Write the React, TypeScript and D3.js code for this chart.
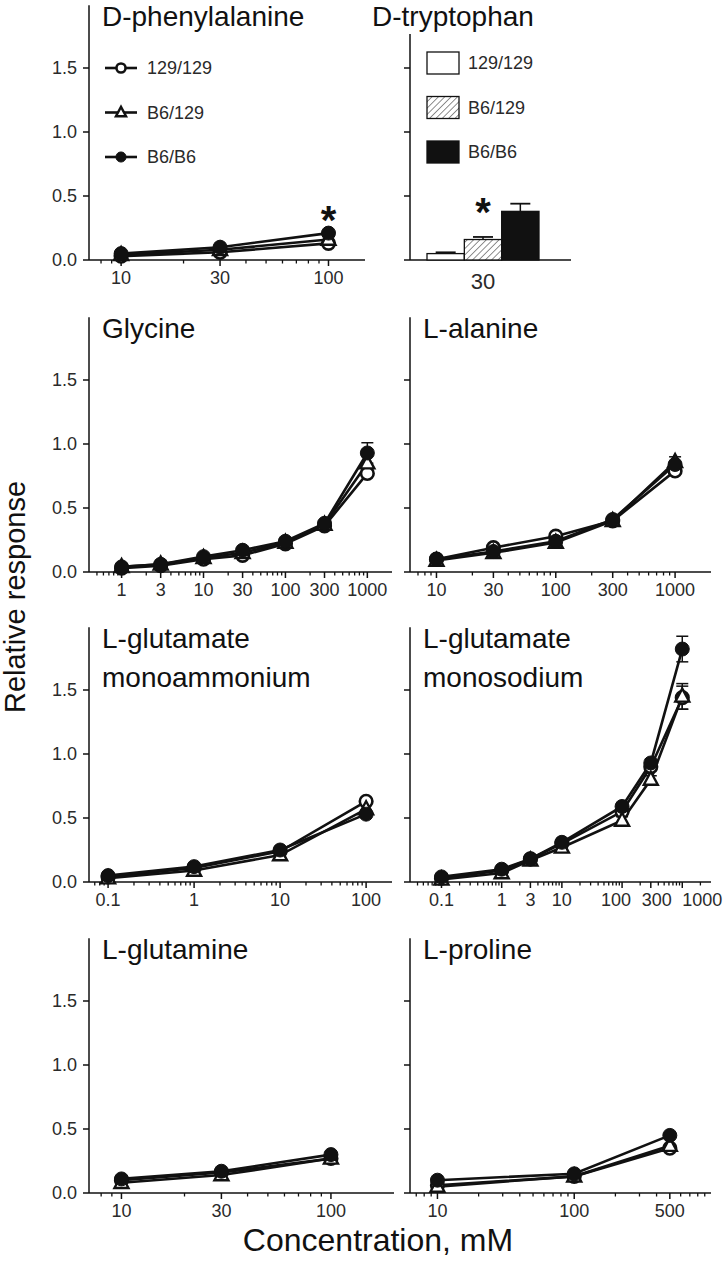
import React from "react";
import * as d3 from "d3";

const FONT = "'Liberation Sans', Arial, Helvetica, sans-serif";
const INK = "#111";

// ---------- data ----------
const strains = ["129/129", "B6/129", "B6/B6"];
const yTickValues = [0, 0.5, 1.0, 1.5];
const yTickLabels = ["0.0", "0.5", "1.0", "1.5"];

// D-phenylalanine
const dpheConc = [10, 30, 100];
const dphe129 = [0.03, 0.06, 0.13];
const dpheB6129 = [0.04, 0.08, 0.16];
const dpheB6 = [0.05, 0.1, 0.21];
const dpheTicks = [10, 30, 100];

// D-tryptophan (bars)
const dtrpConcLabel = "30";
const dtrpMeans = [0.05, 0.16, 0.38];
const dtrpSem = [0.01, 0.02, 0.06];

// Glycine
const glyConc = [1, 3, 10, 30, 100, 300, 1000];
const gly129 = [0.03, 0.05, 0.1, 0.13, 0.22, 0.36, 0.77];
const glyB6129 = [0.04, 0.06, 0.11, 0.15, 0.23, 0.37, 0.85];
const glyB6 = [0.04, 0.06, 0.12, 0.17, 0.24, 0.38, 0.93];
const glySemB6 = [0.01, 0.01, 0.01, 0.02, 0.02, 0.02, 0.08];
const glyTicks = [1, 3, 10, 30, 100, 300, 1000];

// L-alanine
const alaConc = [10, 30, 100, 300, 1000];
const ala129 = [0.1, 0.19, 0.28, 0.4, 0.79];
const alaB6129 = [0.09, 0.15, 0.23, 0.4, 0.86];
const alaB6 = [0.1, 0.16, 0.24, 0.41, 0.84];
const alaSemB6129 = [0.01, 0.01, 0.02, 0.02, 0.04];
const alaTicks = [10, 30, 100, 300, 1000];

// L-glutamate monoammonium
const mpgConc = [0.1, 1, 10, 100];
const mpg129 = [0.04, 0.11, 0.24, 0.63];
const mpgB6129 = [0.03, 0.09, 0.21, 0.57];
const mpgB6 = [0.05, 0.12, 0.25, 0.53];
const mpgTicks = [0.1, 1, 10, 100];

// L-glutamate monosodium
const msgConc = [0.1, 1, 3, 10, 100, 300, 1000];
const msg129 = [0.03, 0.09, 0.18, 0.3, 0.55, 0.9, 1.44];
const msgB6129 = [0.02, 0.07, 0.17, 0.27, 0.48, 0.8, 1.45];
const msgB6 = [0.04, 0.1, 0.18, 0.31, 0.59, 0.93, 1.82];
const msgSem129 = [0.01, 0.01, 0.01, 0.02, 0.03, 0.03, 0.09];
const msgSemB6129 = [0.01, 0.01, 0.01, 0.02, 0.03, 0.03, 0.1];
const msgSemB6 = [0.01, 0.01, 0.01, 0.02, 0.03, 0.03, 0.1];
const msgTicks = [0.1, 1, 3, 10, 100, 300, 1000];

// L-glutamine
const glnConc = [10, 30, 100];
const gln129 = [0.1, 0.16, 0.27];
const glnB6129 = [0.08, 0.14, 0.27];
const glnB6 = [0.11, 0.17, 0.3];
const glnTicks = [10, 30, 100];

// L-proline
const proConc = [10, 100, 500];
const pro129 = [0.06, 0.13, 0.35];
const proB6129 = [0.05, 0.13, 0.37];
const proB6 = [0.1, 0.15, 0.45];
const proTicks = [10, 100, 500];

const fmt = (v: number) => String(v);

// ---------- layout ----------
const L = 89;
const R = 410;
const rows = [260, 572, 882, 1193];
const PH = 256;
const LW = 2.6;

type PanelDef = {
  title: string[];
  conc: number[];
  series: number[][];
  sem?: (number[] | null)[];
  ticks: number[];
  labelShift?: number[];
  xDomain: [number, number];
  left: number;
  right: number;
  zeroY: number;
  yLabels: boolean;
  legend?: boolean;
  starAt?: number;
};

const panels: PanelDef[] = [
  { title: ["D-phenylalanine"], conc: dpheConc, series: [dphe129, dpheB6129, dpheB6], ticks: dpheTicks, xDomain: [7, 150], left: L, right: 365, zeroY: rows[0], yLabels: true, legend: true, starAt: 2 },
  { title: ["Glycine"], conc: glyConc, series: [gly129, glyB6129, glyB6], sem: [null, null, glySemB6], ticks: glyTicks, xDomain: [0.4, 2000], left: L, right: 392, zeroY: rows[1], yLabels: true },
  { title: ["L-alanine"], conc: alaConc, series: [ala129, alaB6129, alaB6], sem: [null, alaSemB6129, null], ticks: alaTicks, xDomain: [6, 2000], left: R, right: 711, zeroY: rows[1], yLabels: false },
  { title: ["L-glutamate", "monoammonium"], conc: mpgConc, series: [mpg129, mpgB6129, mpgB6], ticks: mpgTicks, xDomain: [0.06, 200], left: L, right: 392, zeroY: rows[2], yLabels: true },
  { title: ["L-glutamate", "monosodium"], conc: msgConc, series: [msg129, msgB6129, msgB6], sem: [msgSem129, msgSemB6129, msgSemB6], ticks: msgTicks, labelShift: [0, 0, 0, 0, -6, 6, 20], xDomain: [0.03, 3000], left: R, right: 711, zeroY: rows[2], yLabels: false },
  { title: ["L-glutamine"], conc: glnConc, series: [gln129, glnB6129, glnB6], ticks: glnTicks, xDomain: [7, 200], left: L, right: 394, zeroY: rows[3], yLabels: true },
  { title: ["L-proline"], conc: proConc, series: [pro129, proB6129, proB6], ticks: proTicks, xDomain: [6.3, 1000], left: R, right: 711, zeroY: rows[3], yLabels: false },
];

function Marker({ kind, cx, cy, s = 1 }: { kind: number; cx: number; cy: number; s?: number }) {
  if (kind === 0)
    return <circle cx={cx} cy={cy} r={6.3 * s} fill="#fff" stroke={INK} strokeWidth={2.6} />;
  if (kind === 1) {
    const p = `M${cx},${cy - 7.8 * s}L${cx + 7 * s},${cy + 5.2 * s}L${cx - 7 * s},${cy + 5.2 * s}Z`;
    return <path d={p} fill="#fff" stroke={INK} strokeWidth={2.4} strokeLinejoin="miter" />;
  }
  return <circle cx={cx} cy={cy} r={7 * s} fill={INK} stroke={INK} strokeWidth={1} />;
}

function YAxis({ x, y, labels, top }: { x: number; y: d3.ScaleLinear<number, number>; labels: boolean; top?: number }) {
  return (
    <g>
      <line x1={x} x2={x} y1={y(0)} y2={top !== undefined ? top : y(1.99)} stroke={INK} strokeWidth={1.5} />
      {yTickValues.map((v, i) => (
        <g key={i}>
          <line x1={x - 6} x2={x} y1={y(v)} y2={y(v)} stroke={INK} strokeWidth={1.5} />
          {labels && (
            <text x={x - 12} y={y(v)} dy="0.36em" textAnchor="end" fontSize={18} fontFamily={FONT} fill="#2a2a2a">
              {yTickLabels[i]}
            </text>
          )}
        </g>
      ))}
    </g>
  );
}

function LogPanel({ def }: { def: PanelDef }) {
  const { left, right, zeroY } = def;
  const x = d3.scaleLog().domain(def.xDomain).range([left, right]);
  const y = d3.scaleLinear().domain([0, 2]).range([zeroY, zeroY - PH]);
  const [lo, hi] = def.xDomain;
  const minor: number[] = [];
  for (let d = Math.floor(Math.log10(lo)); d <= Math.ceil(Math.log10(hi)); d++) {
    for (let m = 1; m <= 9; m++) {
      const v = m * Math.pow(10, d);
      if (v < lo * 1.0001 || v > hi * 0.9999) continue;
      if (def.ticks.some((t) => Math.abs(t - v) / v < 1e-6)) continue;
      minor.push(v);
    }
  }
  const line = d3
    .line<number>()
    .x((_, i) => x(def.conc[i]))
    .y((v) => y(v));
  const top = zeroY - PH;
  return (
    <g>
      <YAxis x={left} y={y} labels={def.yLabels} />
      <line x1={left} x2={right} y1={zeroY} y2={zeroY} stroke={INK} strokeWidth={1.5} />
      {minor.map((v, i) => (
        <line key={"m" + i} x1={x(v)} x2={x(v)} y1={zeroY} y2={zeroY + 3.5} stroke={INK} strokeWidth={1.3} />
      ))}
      {def.ticks.map((v, i) => (
        <g key={"t" + i}>
          <line x1={x(v)} x2={x(v)} y1={zeroY} y2={zeroY + 6} stroke={INK} strokeWidth={1.5} />
          <text x={x(v) + (def.labelShift ? def.labelShift[i] : 0)} y={zeroY + 24} textAnchor="middle" fontSize={18} fontFamily={FONT} fill="#2a2a2a">
            {fmt(v)}
          </text>
        </g>
      ))}
      {def.title.map((t, i) => (
        <text key={"ti" + i} x={left + 13} y={top + 22 + i * 39} fontSize={28} fontFamily={FONT} fill={INK}>
          {t}
        </text>
      ))}
      {def.series.map((s, k) => (
        <path key={"l" + k} d={line(s) || ""} fill="none" stroke={INK} strokeWidth={LW} />
      ))}
      {def.sem &&
        def.sem.map((e, k) =>
          e
            ? e.map((sv, i) => {
                const cx = x(def.conc[i]);
                const v = def.series[k][i];
                return (
                  <g key={"e" + k + "-" + i}>
                    <line x1={cx} x2={cx} y1={y(v - sv)} y2={y(v + sv)} stroke={INK} strokeWidth={1.5} />
                    <line x1={cx - 6} x2={cx + 6} y1={y(v + sv)} y2={y(v + sv)} stroke={INK} strokeWidth={1.5} />
                    <line x1={cx - 6} x2={cx + 6} y1={y(v - sv)} y2={y(v - sv)} stroke={INK} strokeWidth={1.5} />
                  </g>
                );
              })
            : null
        )}
      {def.series.map((s, k) =>
        s.map((v, i) => <Marker key={"p" + k + "-" + i} kind={k} cx={x(def.conc[i])} cy={y(v)} />)
      )}
      {def.starAt !== undefined && (
        <text x={x(def.conc[def.starAt])} y={y(def.series[2][def.starAt]) + 1} textAnchor="middle" fontSize={40} fontWeight="bold" fontFamily={FONT} fill={INK}>
          *
        </text>
      )}
      {def.legend &&
        strains.map((s, k) => {
          const ly = y(1.5) + k * 44.5;
          return (
            <g key={"lg" + k}>
              <line x1={105} x2={137} y1={ly} y2={ly} stroke={INK} strokeWidth={LW} />
              <Marker kind={k} cx={121} cy={ly} s={0.72} />
              <text x={147} y={ly} dy="0.36em" fontSize={18} fontFamily={FONT} fill="#2a2a2a">
                {s}
              </text>
            </g>
          );
        })}
    </g>
  );
}

function BarPanel() {
  const zeroY = rows[0];
  const left = R;
  const right = 571;
  const y = d3.scaleLinear().domain([0, 2]).range([zeroY, zeroY - PH]);
  const xb = d3.scaleBand<string>().domain(strains).range([427, 539]).padding(0);
  const fills = ["#fff", "url(#hatch)", INK];
  const center = (427 + 539) / 2;
  return (
    <g>
      <defs>
        <pattern id="hatch" width={4.5} height={4.5} patternUnits="userSpaceOnUse" patternTransform="rotate(45)">
          <rect width={4.5} height={4.5} fill="#fff" />
          <line x1={0} y1={0} x2={0} y2={4.5} stroke="#333" strokeWidth={1.1} />
        </pattern>
      </defs>
      <YAxis x={left} y={y} labels={false} top={34} />
      <line x1={left} x2={right} y1={zeroY} y2={zeroY} stroke={INK} strokeWidth={1.5} />
      <text x={372} y={26} fontSize={28} fontFamily={FONT} fill={INK}>
        D-tryptophan
      </text>
      {strains.map((s, k) => {
        const bx = xb(s) as number;
        const bw = xb.bandwidth();
        const m = dtrpMeans[k];
        const e = dtrpSem[k];
        const cx = bx + bw / 2;
        return (
          <g key={s}>
            <line x1={cx} x2={cx} y1={y(m)} y2={y(m + e)} stroke={INK} strokeWidth={1.5} />
            <line x1={cx - 10} x2={cx + 10} y1={y(m + e)} y2={y(m + e)} stroke={INK} strokeWidth={1.8} />
            <rect x={bx} y={y(m)} width={bw} height={zeroY - y(m)} fill={fills[k]} stroke={INK} strokeWidth={1.3} />
          </g>
        );
      })}
      <text x={xb("B6/129")! + xb.bandwidth() / 2} y={y(dtrpMeans[1] + dtrpSem[1]) - 11} textAnchor="middle" fontSize={40} fontWeight="bold" fontFamily={FONT} fill={INK}>
        *
      </text>
      <text x={center} y={zeroY + 29} textAnchor="middle" fontSize={22} fontFamily={FONT} fill="#2a2a2a">
        {dtrpConcLabel}
      </text>
      {strains.map((s, k) => {
        const ly = 52 + k * 44.5;
        return (
          <g key={"bl" + k}>
            <rect x={427} y={ly} width={32} height={22} fill={fills[k]} stroke={INK} strokeWidth={1.3} />
            <text x={468} y={ly + 11} dy="0.36em" fontSize={18} fontFamily={FONT} fill="#2a2a2a">
              {s}
            </text>
          </g>
        );
      })}
    </g>
  );
}

export default function App() {
  return (
    <svg width={728} height={1263} style={{ position: "absolute", left: 0, top: 0, background: "#fff" }}>
      <rect width={728} height={1263} fill="#fff" />
      {panels.map((p, i) => (
        <LogPanel key={i} def={p} />
      ))}
      <BarPanel />
      <text transform="translate(25,597) rotate(-90)" textAnchor="middle" fontSize={29} fontFamily={FONT} fill={INK}>
        Relative response
      </text>
      <text x={378} y={1251} textAnchor="middle" fontSize={32} fontFamily={FONT} fill={INK}>
        Concentration, mM
      </text>
    </svg>
  );
}
